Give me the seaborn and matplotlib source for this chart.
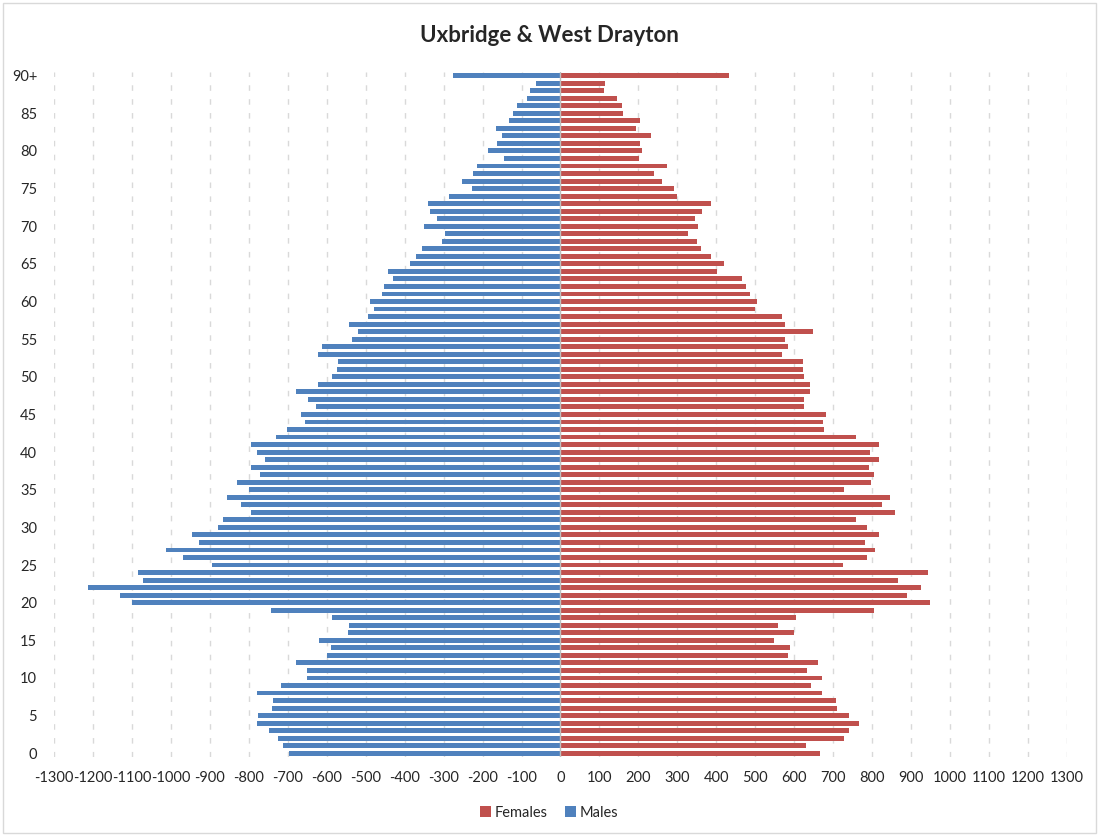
"""
Pirámide de población - Uxbridge & West Drayton
Valores leídos del gráfico original (hombres a la izquierda, mujeres a la derecha).
"""

import pandas as pd
import matplotlib.pyplot as plt
import matplotlib.patches as mpatches
import seaborn as sns

# Edades 0..89 y 90+
ages = [str(a) for a in range(90)] + ['90+']

males = [697, 712, 724, 749, 779, 776, 739, 738, 779, 717,
         651, 651, 679, 598, 589, 619, 544, 542, 587, 742,
         1100, 1129, 1212, 1070, 1085, 895, 969, 1012, 928, 945,
         879, 867, 795, 820, 856, 799, 829, 770, 793, 759,
         779, 793, 731, 702, 655, 665, 628, 649, 678, 623,
         586, 574, 571, 623, 613, 536, 520, 542, 495, 478,
         490, 457, 452, 430, 442, 386, 371, 356, 304, 296,
         351, 317, 334, 340, 287, 227, 254, 224, 215, 146,
         187, 162, 150, 166, 132, 123, 111, 87, 78, 62,
         277]

females = [665, 630, 727, 740, 765, 740, 710, 706, 671, 642,
           671, 633, 660, 583, 590, 549, 600, 557, 605, 804,
           949, 889, 924, 866, 943, 726, 787, 808, 782, 818,
           787, 759, 859, 825, 846, 728, 797, 805, 791, 818,
           795, 818, 757, 677, 673, 682, 624, 624, 641, 639,
           624, 622, 622, 569, 583, 577, 648, 575, 569, 500,
           504, 485, 476, 467, 401, 419, 386, 360, 350, 328,
           354, 346, 364, 386, 298, 292, 260, 241, 273, 202,
           210, 204, 232, 194, 204, 161, 159, 146, 112, 114,
           433]

x_ticks = list(range(-1300, 1301, 100))
y_tick_labels = ['90+', '85', '80', '75', '70', '65', '60', '55', '50', '45',
                 '40', '35', '30', '25', '20', '15', '10', '5', '0']

# Tabla larga: hombres en negativo
df = pd.concat([
    pd.DataFrame({'age': ages, 'value': females, 'sex': 'Females'}),
    pd.DataFrame({'age': ages, 'value': [-m for m in males], 'sex': 'Males'}),
])

sns.set_style("white")
plt.rcParams['font.family'] = ['Lato', 'DejaVu Sans']
plt.rcParams['axes.unicode_minus'] = False

fig = plt.figure(figsize=(10.99, 8.36), dpi=100)
ax = fig.add_axes([0.049, 0.0945, 0.922, 0.8195])

order = ages[::-1]  # 90+ arriba
sns.barplot(data=df, x='value', y='age', hue='sex', order=order,
            hue_order=['Females', 'Males'], dodge=False, width=0.65,
            palette={'Females': '#C0504D', 'Males': '#4F81BD'}, saturation=1,
            orient='h', ax=ax, linewidth=0)

# Ejes y rejilla
ax.set_xlim(-1300, 1300)
ax.set_xticks(x_ticks)
ax.set_xticklabels([str(t) for t in x_ticks], fontsize=10.5, color='#262626')
for t in x_ticks:
    ax.axvline(t, color='#D9D9D9', lw=1, ls=(0, (4, 6)), zorder=0)
ax.axvline(0, color='#BFBFBF', lw=1, zorder=3)

pos = [order.index(lbl) for lbl in y_tick_labels]
ax.set_yticks(pos)
ax.set_yticklabels(y_tick_labels, fontsize=10.5, color='#262626')
ax.tick_params(axis='both', length=0)
ax.tick_params(axis='y', pad=12)
ax.tick_params(axis='x', pad=10)
ax.set_xlabel('')
ax.set_ylabel('')
for s in ax.spines.values():
    s.set_visible(False)

fig.suptitle('Uxbridge & West Drayton', fontsize=16, fontweight='bold', y=0.97)

handles, labels = ax.get_legend_handles_labels()
ax.get_legend().remove()
fig.legend(handles, labels, loc='center', bbox_to_anchor=(0.5, 0.028), ncol=2,
           frameon=False, fontsize=10.5, handlelength=0.7, handleheight=0.7,
           handletextpad=0.3, columnspacing=1.2)

# Marco exterior del gráfico
fig.patches.append(mpatches.Rectangle((0.003, 0.003), 0.994, 0.994, transform=fig.transFigure,
                                      fill=False, edgecolor='#D9D9D9', lw=1))

plt.savefig('out.png', dpi=100)
